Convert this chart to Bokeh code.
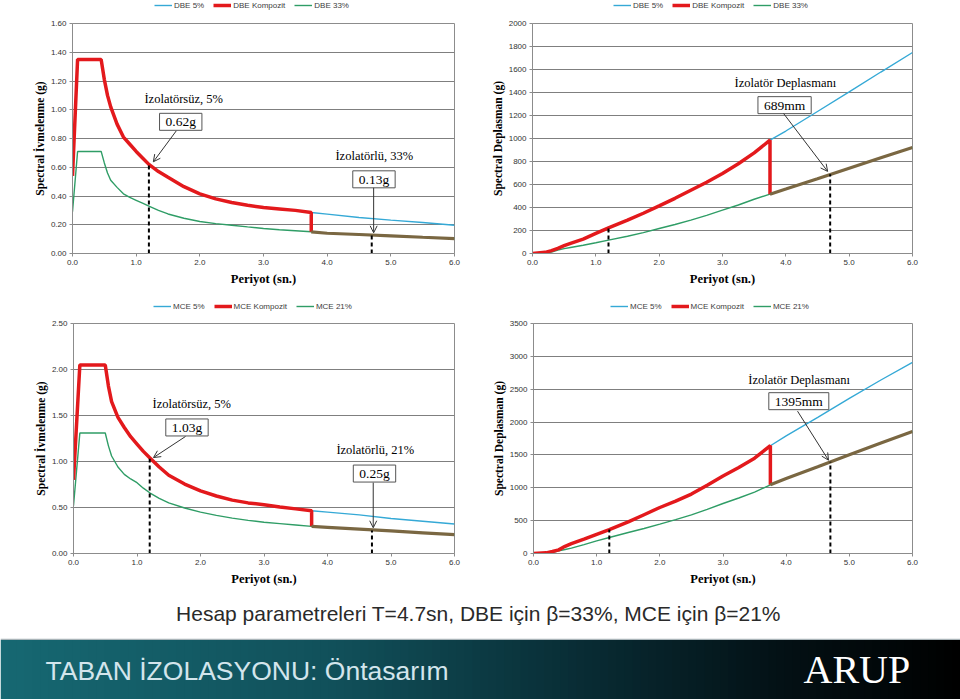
import numpy as np
from bokeh.plotting import figure
from bokeh.models import (Range1d, FixedTicker, NumeralTickFormatter, Legend, LegendItem,
                          Label, Arrow, OpenHead)
from bokeh.layouts import column, row
from bokeh.embed import file_html
from bokeh.resources import INLINE

# ---------------- data ----------------
# DBE spectral acceleration (g)
T_dbe_acc = [0, 0.08, 0.45, 0.5, 0.55, 0.6, 0.7, 0.8, 0.9, 1.0, 1.1, 1.2, 1.35, 1.5, 1.75, 2.0,
             2.25, 2.5, 2.75, 3.0, 3.25, 3.5, 3.75, 4.0, 4.5, 5.0, 5.5, 6.0]
dbe5_acc = [0.54, 1.35, 1.35, 1.21, 1.10, 1.02, 0.90, 0.81, 0.76, 0.71, 0.665, 0.62, 0.57, 0.53,
            0.465, 0.415, 0.38, 0.355, 0.335, 0.32, 0.31, 0.30, 0.285, 0.274, 0.25, 0.232, 0.216, 0.197]
dbe33_acc = [0.29, 0.71, 0.71, 0.63, 0.56, 0.51, 0.46, 0.415, 0.39, 0.37, 0.35, 0.33, 0.30, 0.275,
             0.245, 0.223, 0.208, 0.197, 0.185, 0.174, 0.165, 0.158, 0.151, 0.141, 0.132, 0.123, 0.113, 0.104]

# MCE spectral acceleration (g)
T_mce_acc = [0, 0.1, 0.5, 0.55, 0.6, 0.7, 0.8, 0.9, 1.0, 1.1, 1.2, 1.35, 1.5, 1.75, 2.0, 2.25,
             2.5, 2.75, 3.0, 3.25, 3.5, 3.75, 4.0, 4.5, 5.0, 5.5, 6.0]
mce5_acc = [0.80, 2.05, 2.05, 1.82, 1.65, 1.48, 1.37, 1.27, 1.19, 1.11, 1.04, 0.94, 0.85, 0.755,
            0.68, 0.625, 0.58, 0.55, 0.53, 0.505, 0.485, 0.465, 0.45, 0.42, 0.38, 0.35, 0.32]
mce21_acc = [0.52, 1.31, 1.31, 1.17, 1.06, 0.94, 0.86, 0.81, 0.77, 0.71, 0.66, 0.60, 0.55, 0.495,
             0.45, 0.415, 0.385, 0.36, 0.34, 0.325, 0.31, 0.295, 0.285, 0.265, 0.245, 0.225, 0.205]

# spectral displacement (mm), DBE and MCE
T_disp = [0, 0.2, 0.3, 0.4, 0.5, 0.6, 0.8, 1.0, 1.2, 1.5, 1.75, 2.0, 2.25, 2.5, 2.75, 3.0,
          3.25, 3.5, 3.75, 4.0, 4.5, 5.0, 5.5, 6.0]
dbe5_disp = [0, 10, 25, 45, 68, 88, 125, 175, 223, 290, 350, 414, 480, 550, 620, 696,
             780, 875, 985, 1065, 1235, 1405, 1578, 1748]
dbe33_disp = [0, 5, 12, 30, 42, 52, 72, 93, 116, 150, 182, 217, 252, 290, 332, 377,
              422, 472, 516, 560, 650, 742, 832, 922]
mce5_disp = [0, 10, 30, 55, 110, 150, 218, 292, 365, 480, 590, 700, 798, 905, 1040, 1180,
             1310, 1450, 1640, 1790, 2070, 2360, 2640, 2910]
mce21_disp = [0, 5, 15, 40, 60, 82, 135, 193, 243, 320, 380, 446, 515, 588, 672, 761,
              845, 935, 1045, 1140, 1320, 1502, 1680, 1857]

# composite spectrum switches from 5% to the isolated damping at this period (s)
T_switch = 3.75

# design points (T = 1.2 s fixed-base, T = 4.7 s isolated)
T_marker = [1.2, 4.7]
dbe_acc_marker = [0.62, 0.13]
dbe_disp_marker = [225, 689]
mce_acc_marker = [1.03, 0.25]
mce_disp_marker = [365, 1395]

x_ticks = [0, 1, 2, 3, 4, 5, 6]
dbe_acc_ticks = [0, 0.2, 0.4, 0.6, 0.8, 1.0, 1.2, 1.4, 1.6]
dbe_disp_ticks = [0, 200, 400, 600, 800, 1000, 1200, 1400, 1600, 1800, 2000]
mce_acc_ticks = [0, 0.5, 1.0, 1.5, 2.0, 2.5]
mce_disp_ticks = [0, 500, 1000, 1500, 2000, 2500, 3000, 3500]

dbe_labels = ["DBE 5%", "DBE Kompozit", "DBE 33%"]
mce_labels = ["MCE 5%", "MCE Kompozit", "MCE 21%"]

# ---------------- styles ----------------
C_BLUE = "#35a9d6"
C_RED = "#e3191c"
C_GREEN = "#2f9d66"
C_BROWN = "#7a6742"
SERIF = "Liberation Serif"
SANS = "Liberation Sans"
GRID = "#7f7f7f"
W_BLUE, W_GREEN, W_RED = 1.4, 1.4, 3.5


def legend_strip(width, height, left, right, labels, leg_x, leg_y):
    # same side borders as the chart below it, so the column keeps both frames aligned
    s = figure(width=width, height=height, x_range=Range1d(0, 1), y_range=Range1d(0, 1),
               x_axis_type=None, y_axis_type=None, output_backend="svg",
               toolbar_location=None, min_border_left=left, min_border_right=right,
               min_border_top=0, min_border_bottom=0)
    s.outline_line_color = None
    s.grid.visible = False
    s.background_fill_alpha = 0
    s.border_fill_color = "white"
    # sample renderers lie outside the visible range; they only feed the legend glyphs
    rb = s.line(x=[-5, -4], y=[-5, -5], line_color=C_BLUE, line_width=W_BLUE)
    rr = s.line(x=[-5, -4], y=[-5, -5], line_color=C_RED, line_width=W_RED)
    rg = s.line(x=[-5, -4], y=[-5, -5], line_color=C_GREEN, line_width=W_GREEN)
    leg = Legend(items=[LegendItem(label=labels[0], renderers=[rb]),
                        LegendItem(label=labels[1], renderers=[rr]),
                        LegendItem(label=labels[2], renderers=[rg])],
                 orientation="horizontal", location=(leg_x, leg_y),
                 label_text_font=SANS, label_text_font_size="8px", label_text_color="#404040",
                 label_height=10, glyph_height=10, glyph_width=18, label_standoff=2,
                 spacing=9, padding=0, margin=0,
                 background_fill_alpha=0, border_line_color=None)
    s.add_layout(leg, "center")
    return s


def panel(width, height, left, right, top, bottom, ymax, yticks, yfmt, ylabel,
          T, s5, sd, marker_vals, texts, box_pos, arrows, box_fmt):
    p = figure(width=width, height=height, min_border_left=left, min_border_right=right,
               min_border_top=top, min_border_bottom=bottom,
               x_range=Range1d(0, 6), y_range=Range1d(0, ymax),
               output_backend="svg", toolbar_location=None)
    p.background_fill_color = "white"
    p.border_fill_color = "white"
    p.outline_line_color = "#8c8c8c"
    p.outline_line_width = 1
    p.xgrid.visible = False
    p.ygrid.grid_line_color = GRID
    p.ygrid.grid_line_width = 1
    p.ygrid.ticker = FixedTicker(ticks=yticks)

    p.xaxis.ticker = FixedTicker(ticks=x_ticks)
    p.yaxis.ticker = FixedTicker(ticks=yticks)
    p.xaxis.formatter = NumeralTickFormatter(format="0.0")
    p.yaxis.formatter = NumeralTickFormatter(format=yfmt)
    for ax in (p.xaxis[0], p.yaxis[0]):
        ax.axis_line_color = "#8c8c8c"
        ax.major_tick_line_color = "#8c8c8c"
        ax.major_tick_in = 0
        ax.major_tick_out = 3
        ax.minor_tick_line_color = None
        ax.major_label_text_font = SANS
        ax.major_label_text_font_size = "8px"
        ax.major_label_text_color = "#333333"
        ax.major_label_standoff = 3
        ax.axis_label_text_font = SERIF
        ax.axis_label_text_font_style = "bold"
        ax.axis_label_text_color = "black"
    p.xaxis.axis_label_text_font_size = "12.5px"
    p.xaxis.axis_label_standoff = 4
    p.yaxis.axis_label_text_font_size = "11.5px"
    p.yaxis.axis_label_standoff = 2
    p.xaxis.axis_label = "Periyot (sn.)"
    p.yaxis.axis_label = ylabel

    # composite: 5% spectrum up to T_switch, then the damped spectrum
    k = T.index(T_switch)
    Tc = T[:k + 1] + T[k:]
    sc = s5[:k + 1] + sd[k:]

    p.line(T, s5, line_color=C_BLUE, line_width=W_BLUE)
    p.line(T, sd, line_color=C_GREEN, line_width=W_GREEN)
    p.line(Tc[:k + 2], sc[:k + 2], line_color=C_RED, line_width=W_RED)
    p.line(Tc[k + 1:], sc[k + 1:], line_color=C_BROWN, line_width=3.2)

    # dashed design-period markers
    p.segment(x0=T_marker, y0=[0] * len(T_marker), x1=T_marker, y1=marker_vals,
              line_color="black", line_width=2, line_dash="4 3")

    for (txt, x, y) in texts:
        p.add_layout(Label(x=x, y=y, text=txt, text_font=SERIF, text_font_size="12.5px",
                           text_color="black", text_align="left", text_baseline="middle"))
    for (v, (x, y)) in zip(marker_vals, box_pos):
        if x is None:
            continue
        p.add_layout(Label(x=x, y=y, text=box_fmt.format(v), text_font=SERIF,
                           text_font_size="13.5px", text_color="black",
                           text_align="center", text_baseline="middle",
                           border_line_color="#555555", border_line_width=1,
                           background_fill_color="white", padding=(6, 1)))
    for (x0, y0, x1, y1) in arrows:
        p.add_layout(Arrow(end=OpenHead(size=7, line_width=1, line_color="#333333"),
                           x_start=x0, y_start=y0, x_end=x1, y_end=y1,
                           line_color="#333333", line_width=1))
    return p


p1 = panel(480, 281, 72, 26, 11, 40, 1.6, dbe_acc_ticks, "0.00", "Spectral İvmelenme (g)",
           T_dbe_acc, dbe5_acc, dbe33_acc, dbe_acc_marker,
           [("İzolatörsüz, 5%", 1.13, 1.076), ("İzolatörlü, 33%", 4.13, 0.68)],
           [(1.70, 0.916), (4.735, 0.516)],
           [(1.63, 0.853, 1.27, 0.638), (4.73, 0.457, 4.73, 0.144)], "{:.2f}g")

p2 = panel(480, 281, 52, 48, 11, 40, 2000, dbe_disp_ticks, "0", "Spectral Deplasman (g)",
           T_disp, dbe5_disp, dbe33_disp, dbe_disp_marker,
           [("İzolatör Deplasmanı", 3.19, 1486)],
           [(None, None), (3.98, 1290)],
           [(3.965, 1217, 4.66, 714)], "{:.0f}mm")

p3 = panel(480, 277, 73, 26, 10, 37, 2.5, mce_acc_ticks, "0.00", "Spectral İvmelenme (g)",
           T_mce_acc, mce5_acc, mce21_acc, mce_acc_marker,
           [("İzolatörsüz, 5%", 1.244, 1.62), ("İzolatörlü, 21%", 4.14, 1.12)],
           [(1.787, 1.37), (4.74, 0.869)],
           [(1.764, 1.272, 1.26, 1.043), (4.72, 0.77, 4.72, 0.28)], "{:.2f}g")

p4 = panel(480, 277, 53, 48, 10, 37, 3500, mce_disp_ticks, "0", "Spectral Deplasman (g)",
           T_disp, mce5_disp, mce21_disp, mce_disp_marker,
           [("İzolatör Deplasmanı", 3.40, 2638)],
           [(None, None), (4.20, 2318)],
           [(4.18, 2166, 4.67, 1420)], "{:.0f}mm")

s1 = legend_strip(480, 12, 72, 26, dbe_labels, 82, 2)
s2 = legend_strip(480, 12, 52, 48, dbe_labels, 81, 2)
s3 = legend_strip(480, 20, 73, 26, mce_labels, 80, 2)
s4 = legend_strip(480, 20, 53, 48, mce_labels, 77, 2)

# ---------------- caption strip ----------------
W = 960
cap = figure(width=W, height=48, x_range=Range1d(0, W), y_range=Range1d(0, 48),
             x_axis_type=None, y_axis_type=None, output_backend="svg", toolbar_location=None,
             min_border=0)
cap.outline_line_color = None
cap.grid.visible = False
cap.add_layout(Label(x=478, y=25, text="Hesap parametreleri T=4.7sn, DBE için β=33%, MCE için β=21%",
                     text_font=SANS, text_font_size="21px", text_color="#2a2a2a",
                     text_align="center", text_baseline="middle"))

# ---------------- banner ----------------
BH = 62
ban = figure(width=W, height=BH, x_range=Range1d(0, W), y_range=Range1d(0, BH),
             x_axis_type=None, y_axis_type=None, output_backend="svg", toolbar_location=None,
             min_border=0)
ban.outline_line_color = None
ban.grid.visible = False
stops = [(0.0, (22, 104, 114)), (0.35, (17, 80, 90)), (0.62, (8, 42, 50)),
         (0.82, (3, 16, 20)), (1.0, (0, 0, 0))]
n = 120
edges = np.linspace(0, W, n + 1)
cols = []
for i in range(n):
    f = (i + 0.5) / n
    for j in range(len(stops) - 1):
        a, ca = stops[j]
        b, cb = stops[j + 1]
        if a <= f <= b:
            t = (f - a) / (b - a)
            c = tuple(int(round(ca[m] + (cb[m] - ca[m]) * t)) for m in range(3))
            cols.append("#%02x%02x%02x" % c)
            break
ban.quad(left=edges[:-1], right=edges[1:] + 0.6, bottom=1.5, top=BH - 1.5, fill_color=cols, line_color=None)
ban.quad(left=[0], right=[W], bottom=[BH - 1.5], top=[BH], fill_color="#a9b4b8", line_color=None)
ban.add_layout(Label(x=45, y=30, text="TABAN İZOLASYONU: Öntasarım", text_font=SANS,
                     text_font_size="26.5px", text_color="#d3e5ec",
                     text_align="left", text_baseline="middle"))
ban.add_layout(Label(x=803, y=31, text="ARUP", text_font=SERIF, text_font_size="40px",
                     text_color="white", text_align="left", text_baseline="middle"))

layout = column(row(column(s1, p1), column(s2, p2)),
                row(column(s3, p3), column(s4, p4)), cap, ban)
open("out.html", "w").write(file_html(layout, INLINE))
